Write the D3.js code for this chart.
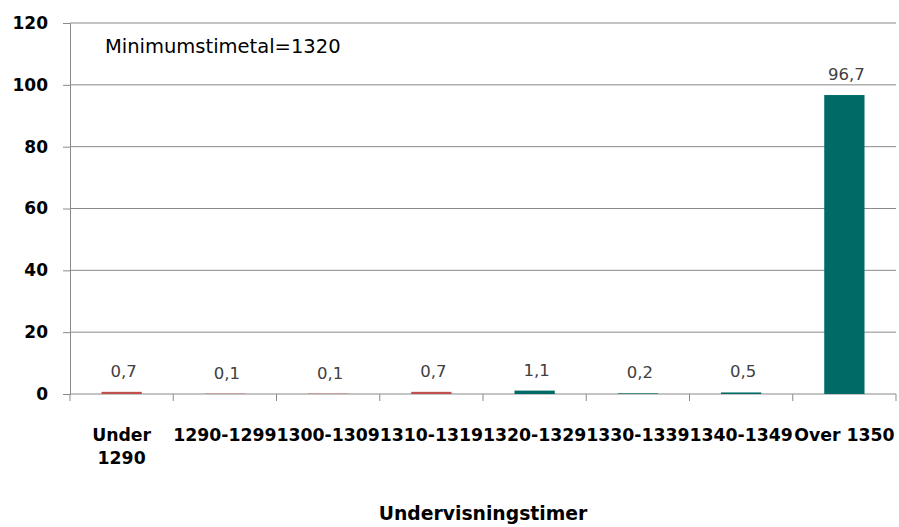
<!DOCTYPE html>
<html>
<head>
<meta charset="utf-8">
<script src="https://cdn.jsdelivr.net/npm/d3@7"></script>
<style>
  html, body { margin: 0; padding: 0; background: #fff; }
  svg { display: block; }
</style>
</head>
<body>
<div id="chart"></div>
<script>
// Data
const categories = ["Under 1290", "1290-1299", "1300-1309", "1310-1319", "1320-1329", "1330-1339", "1340-1349", "Over 1350"];
const values = [0.7, 0.1, 0.1, 0.7, 1.1, 0.2, 0.5, 96.7];
const yTicks = [0, 20, 40, 60, 80, 100, 120];
const belowMinimum = ["Under 1290", "1290-1299", "1300-1309", "1310-1319"];
const annotation = "Minimumstimetal=1320";
const xTitle = "Undervisningstimer";

const width = 899, height = 527;
const margin = { top: 23, right: 3, bottom: 133, left: 70 };

const svg = d3.select("#chart").append("svg")
  .attr("width", width)
  .attr("height", height);

// Scales
const x = d3.scaleBand()
  .domain(categories)
  .range([margin.left, width - margin.right])
  .paddingInner(0.61)
  .paddingOuter(0.305);

const y = d3.scaleLinear()
  .domain([0, 120])
  .range([height - margin.bottom, margin.top]);

const gridColor = "#8a8a8a";
const font = "'DejaVu Sans', Verdana, sans-serif";

// Horizontal gridlines
svg.append("g")
  .selectAll("line")
  .data(yTicks.filter(t => t > 0))
  .enter()
  .append("line")
  .attr("x1", margin.left)
  .attr("x2", width - margin.right)
  .attr("y1", d => y(d))
  .attr("y2", d => y(d))
  .attr("stroke", gridColor)
  .attr("stroke-width", 1);

// Y axis
const yAxis = svg.append("g")
  .attr("transform", `translate(${margin.left},0)`)
  .call(d3.axisLeft(y).tickValues(yTicks).tickSize(7).tickPadding(15));
yAxis.select(".domain").attr("stroke", gridColor);
yAxis.selectAll(".tick line").attr("stroke", gridColor);
yAxis.selectAll(".tick text")
  .attr("fill", "#000")
  .style("font-family", font)
  .style("font-weight", "bold")
  .style("font-size", "17px");

// X axis: ticks at category boundaries
const xAxis = svg.append("g")
  .attr("transform", `translate(0,${y(0)})`);
xAxis.append("line")
  .attr("x1", margin.left)
  .attr("x2", width - margin.right)
  .attr("stroke", gridColor);
const gap = (x.step() - x.bandwidth()) / 2;
const boundaries = categories.map(c => x(c) - gap)
  .concat([x(categories[categories.length - 1]) + x.bandwidth() + gap]);
xAxis.selectAll(".bound")
  .data(boundaries)
  .enter()
  .append("line")
  .attr("x1", d => d)
  .attr("x2", d => d)
  .attr("y1", 0)
  .attr("y2", 7)
  .attr("stroke", gridColor);

// Category labels (wrapped like the original)
const labelG = svg.append("g")
  .style("font-family", font)
  .style("font-weight", "bold")
  .style("font-size", "17.3px")
  .attr("text-anchor", "middle");
categories.forEach(c => {
  const cx = x(c) + x.bandwidth() / 2;
  const lines = c === "Under 1290" ? ["Under", "1290"] : [c];
  lines.forEach((ln, i) => {
    labelG.append("text")
      .attr("x", cx)
      .attr("y", y(0) + 47 + i * 23)
      .attr("fill", "#000")
      .text(ln);
  });
});

// Bars
const red = "#c0504d", teal = "#006b66";
svg.append("g")
  .selectAll("rect")
  .data(categories.map((c, i) => ({ c, v: values[i] })))
  .enter()
  .append("rect")
  .attr("x", d => x(d.c))
  .attr("y", d => y(d.v))
  .attr("width", x.bandwidth())
  .attr("height", d => y(0) - y(d.v))
  .attr("fill", d => belowMinimum.includes(d.c) ? red : teal);

// Value labels
svg.append("g")
  .selectAll("text")
  .data(categories.map((c, i) => ({ c, v: values[i] })))
  .enter()
  .append("text")
  .attr("x", d => x(d.c) + x.bandwidth() / 2 + 2)
  .attr("y", d => y(d.v) - 15)
  .attr("text-anchor", "middle")
  .attr("fill", "#404040")
  .style("font-family", font)
  .style("font-size", "16.5px")
  .text(d => String(d.v).replace(".", ","));

// Annotation
svg.append("text")
  .attr("x", 105)
  .attr("y", 53)
  .attr("fill", "#000")
  .style("font-family", font)
  .style("font-size", "19.5px")
  .text(annotation);

// X axis title
svg.append("text")
  .attr("x", (margin.left + width - margin.right) / 2)
  .attr("y", 520)
  .attr("text-anchor", "middle")
  .attr("fill", "#000")
  .style("font-family", font)
  .style("font-weight", "bold")
  .style("font-size", "18.8px")
  .text(xTitle);
</script>
</body>
</html>
